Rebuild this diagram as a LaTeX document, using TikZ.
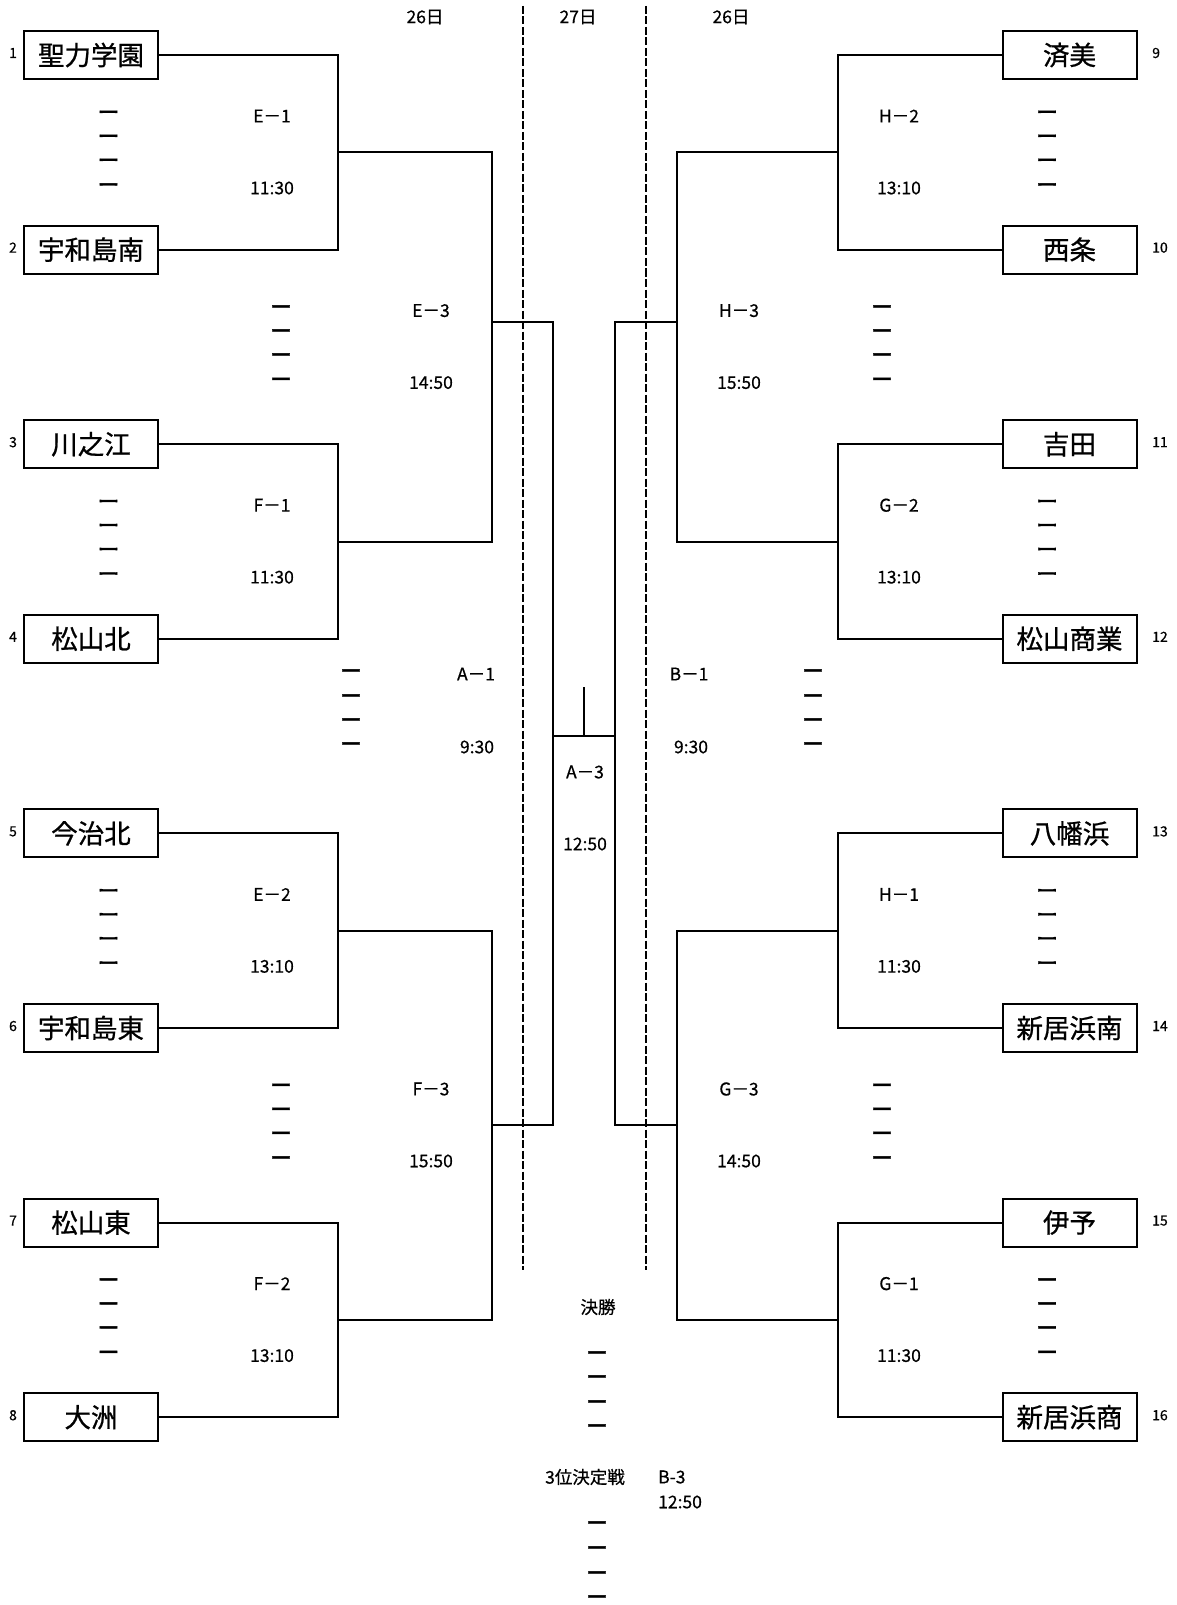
\documentclass[tikz,border=0pt]{standalone}
\usepackage{fontspec}
\setmainfont{Noto Sans CJK JP}
\newfontfamily\jpteam{Noto Sans CJK JP}[FakeBold=0.8]
\newfontfamily\jplbl{Noto Sans CJK JP}[FakeBold=0.6]
\newfontfamily\jpdash{Noto Sans CJK JP}[FakeBold=2]
\begin{document}
\begin{tikzpicture}[x=1pt,y=-1pt,
  team/.style={draw, line width=2pt, minimum width=134pt, minimum height=48pt, inner sep=0pt, font=\jpteam\fontsize{26.5}{26.5}\selectfont},
  num/.style={font=\jplbl\fontsize{14}{14}\selectfont, inner sep=0pt},
  lbl/.style={font=\jplbl\fontsize{17.5}{17.5}\selectfont, inner sep=0pt},
  sc/.style={font=\jpdash\fontsize{22}{22}\selectfont, inner sep=0pt},
  br/.style={line width=2pt},
  dayline/.style={line width=2pt, dash pattern=on 8pt off 2.5pt}]
\useasboundingbox (0,0) rectangle (1177,1605);
% teams
\foreach \i/\t in {1/聖力学園,2/宇和島南,3/川之江,4/松山北,5/今治北,6/宇和島東,7/松山東,8/大洲}{
  \node[team] (L\i) at (91,{55+194.6*(\i-1)}) {\t};
  \node[num] (nL\i) at (13,{53+194.6*(\i-1)}) {\i};
}
\foreach \i/\t/\n in {1/済美/9,2/西条/10,3/吉田/11,4/松山商業/12,5/八幡浜/13,6/新居浜南/14,7/伊予/15,8/新居浜商/16}{
  \node[team] (R\i) at (1069.5,{55+194.6*(\i-1)}) {\t};
  \node[num,anchor=west] (nR\i) at (1152,{53+194.6*(\i-1)}) {\n};
}
% junctions
\foreach \p in {1,2,3,4}{
  \coordinate (J\p) at (338,{55+194.6*(2*\p-2)+97.3});
  \coordinate (K\p) at (838,{55+194.6*(2*\p-2)+97.3});
}
\coordinate (M1) at (492,322);
\coordinate (M2) at (492,1125);
\coordinate (N1) at (677,322);
\coordinate (N2) at (677,1125);
\coordinate (C1) at (553,322);
\coordinate (C2) at (553,1125);
\coordinate (D1) at (615,322);
\coordinate (D2) at (615,1125);
\coordinate (A3L) at (553,736);
\coordinate (A3R) at (615,736);
\coordinate (A3M) at (584,736);
\coordinate (A3T) at (584,687);
% round 1
\draw[br] (L1.east) -| (J1) |- (L2.east);
\draw[br] (L3.east) -| (J2) |- (L4.east);
\draw[br] (L5.east) -| (J3) |- (L6.east);
\draw[br] (L7.east) -| (J4) |- (L8.east);
\draw[br] (R1.west) -| (K1) |- (R2.west);
\draw[br] (R3.west) -| (K2) |- (R4.west);
\draw[br] (R5.west) -| (K3) |- (R6.west);
\draw[br] (R7.west) -| (K4) |- (R8.west);
% round 2
\draw[br] (J1) -| (M1) |- (J2);
\draw[br] (J3) -| (M2) |- (J4);
\draw[br] (K1) -| (N1) |- (K2);
\draw[br] (K3) -| (N2) |- (K4);
% semis / final
\draw[br] (M1) -- (C1) -- (C2) -- (M2);
\draw[br] (N1) -- (D1) -- (D2) -- (N2);
\draw[br] (A3L) -- (A3R);
\draw[br] (A3M) -- (A3T);
% day separators
\coordinate (S1t) at (523,6); \coordinate (S1b) at (523,1270);
\coordinate (S2t) at (646,6); \coordinate (S2b) at (646,1270);
\draw[dayline] (S1t) -- (S1b);
\draw[dayline] (S2t) -- (S2b);
\node[lbl] (d1) at (425,17) {26日};
\node[lbl] (d2) at (578,17) {27日};
\node[lbl] (d3) at (731,17) {26日};
% round 1 labels
\foreach \k/\g/\tm/\sg/\stm in {1/E－1/11:30/H－2/13:10,3/F－1/11:30/G－2/13:10,5/E－2/13:10/H－1/11:30,7/F－2/13:10/G－1/11:30}{
  \node[lbl] (gL\k) at (272,{55+194.6*(\k-1)+61}) {\g};
  \node[lbl] (tL\k) at (272,{55+194.6*(\k-1)+133}) {\tm};
  \node[lbl] (gR\k) at (899,{55+194.6*(\k-1)+61}) {\sg};
  \node[lbl] (tR\k) at (899,{55+194.6*(\k-1)+133}) {\stm};
  \foreach \d/\o in {0/60.5,1/84.5,2/108.5,3/133}{
    \node[sc] (sL\k\d) at (108.5,{55+194.6*(\k-1)+\o}) {ー};
    \node[sc] (sR\k\d) at (1047,{55+194.6*(\k-1)+\o}) {ー};
  }
}
% round 2 labels
\foreach \k/\g/\tm/\sg/\stm in {2/E－3/14:50/H－3/15:50,6/F－3/15:50/G－3/14:50}{
  \node[lbl] (gL\k) at (431,{55+194.6*(\k-1)+61}) {\g};
  \node[lbl] (tL\k) at (431,{55+194.6*(\k-1)+133}) {\tm};
  \node[lbl] (gR\k) at (739,{55+194.6*(\k-1)+61}) {\sg};
  \node[lbl] (tR\k) at (739,{55+194.6*(\k-1)+133}) {\stm};
  \foreach \d/\o in {0/60.5,1/84.5,2/108.5,3/133}{
    \node[sc] (sL\k\d) at (281,{55+194.6*(\k-1)+\o}) {ー};
    \node[sc] (sR\k\d) at (882,{55+194.6*(\k-1)+\o}) {ー};
  }
}
% semifinal labels
\node[lbl] (gA1) at (476,674) {A－1};
\node[lbl] (tA1) at (477,747) {9:30};
\node[lbl] (gB1) at (689,674) {B－1};
\node[lbl] (tB1) at (691,747) {9:30};
\foreach \d/\y in {0/674,1/699,2/723,3/747}{
  \node[sc] (sA\d) at (351,\y) {ー};
  \node[sc] (sB\d) at (813,\y) {ー};
}
\node[lbl] (gA3) at (585,772) {A－3};
\node[lbl] (tA3) at (585,844) {12:50};
% final / third place
\node[lbl] (fin) at (598,1307) {決勝};
\foreach \d/\y in {0/1356,1/1380,2/1405,3/1429}{
  \node[sc] (sF\d) at (597,\y) {ー};
}
\node[lbl] (third) at (585,1477) {3位決定戦};
\node[lbl,anchor=west] (gB3) at (658,1477) {B-3};
\node[lbl,anchor=west] (tB3) at (658,1502) {12:50};
\foreach \d/\y in {0/1526,1/1551,2/1576,3/1600}{
  \node[sc] (sT\d) at (597,\y) {ー};
}
\end{tikzpicture}
\end{document}
